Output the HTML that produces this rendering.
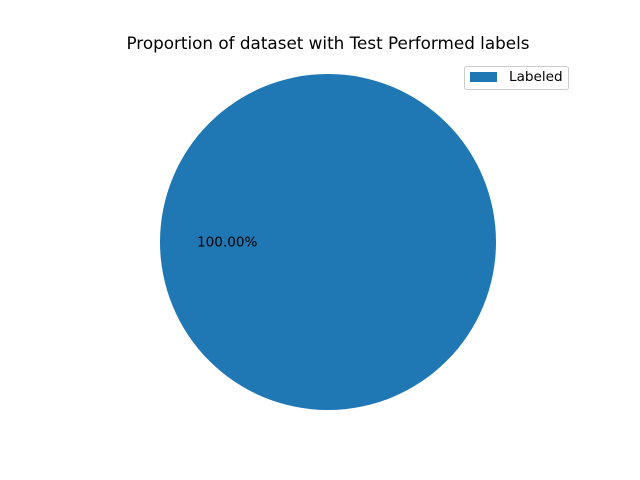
<!DOCTYPE html>
<html>
<head>
<meta charset="utf-8">
<style>
html,body{margin:0;padding:0;background:#fff;}
svg{display:block;font-family:"DejaVu Sans","Liberation Sans",sans-serif;}
</style>
</head>
<body>
<svg id="chart" width="640" height="480" viewBox="0 0 640 480">
  <rect x="0" y="0" width="640" height="480" fill="#fff"/>
  <text x="328" y="49" text-anchor="middle" font-size="16.8" fill="#000">Proportion of dataset with Test Performed labels</text>
  <g id="slices"></g>
  <g id="labels"></g>
  <g id="legend">
    <rect x="464.5" y="66.5" width="104" height="23" rx="2" fill="#fff" stroke="#ccc"/>
  </g>
</svg>
<script>
const categories = ["Labeled"];
const values = [100];
const colors = ["#1f77b4", "#ff7f0e", "#2ca02c", "#d62728"];

const cx = 328, cy = 242, r = 168;
const ns = "http://www.w3.org/2000/svg";
const total = values.reduce((a, b) => a + b, 0);
const slicesG = document.getElementById("slices");
const labelsG = document.getElementById("labels");
const legendG = document.getElementById("legend");
let start = 0;
values.forEach((v, i) => {
  const frac = v / total;
  const a0 = start * 2 * Math.PI, a1 = (start + frac) * 2 * Math.PI;
  let el;
  if (frac >= 0.9999) {
    el = document.createElementNS(ns, "circle");
    el.setAttribute("cx", cx); el.setAttribute("cy", cy); el.setAttribute("r", r);
  } else {
    el = document.createElementNS(ns, "path");
    const x0 = cx + r * Math.cos(a0), y0 = cy - r * Math.sin(a0);
    const x1 = cx + r * Math.cos(a1), y1 = cy - r * Math.sin(a1);
    const large = frac > 0.5 ? 1 : 0;
    el.setAttribute("d", `M${cx},${cy} L${x0},${y0} A${r},${r} 0 ${large} 0 ${x1},${y1} Z`);
  }
  el.setAttribute("fill", colors[i % colors.length]);
  
  
  slicesG.appendChild(el);

  const mid = (a0 + a1) / 2;
  const t = document.createElementNS(ns, "text");
  t.setAttribute("x", cx + 0.6 * r * Math.cos(mid));
  t.setAttribute("y", cy - 0.6 * r * Math.sin(mid) + 4.5);
  t.setAttribute("text-anchor", "middle");
  t.setAttribute("font-size", "13.6");
  t.textContent = (frac * 100).toFixed(2) + "%";
  
  
  labelsG.appendChild(t);

  const sw = document.createElementNS(ns, "rect");
  sw.setAttribute("x", 470); sw.setAttribute("y", 72 + i * 20);
  sw.setAttribute("width", 27); sw.setAttribute("height", 10);
  sw.setAttribute("fill", colors[i % colors.length]);
  
  
  legendG.appendChild(sw);
  const lt = document.createElementNS(ns, "text");
  lt.setAttribute("x", 509); lt.setAttribute("y", 81 + i * 20);
  lt.setAttribute("font-size", "13.6");
  lt.textContent = categories[i];
  
  
  legendG.appendChild(lt);

  start += frac;
});
</script>
</body>
</html>
